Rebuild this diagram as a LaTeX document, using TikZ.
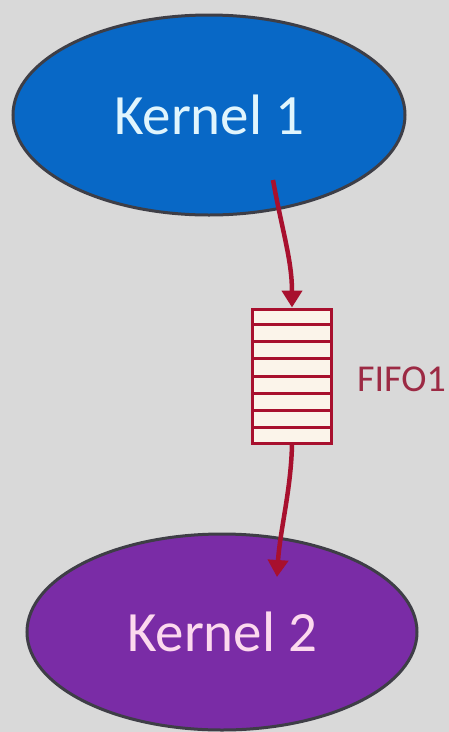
\documentclass[tikz,border=0pt]{standalone}
\usepackage{fontspec}
\setmainfont{Carlito}
\usetikzlibrary{shapes.geometric,arrows.meta,calc}
\definecolor{bgray}{HTML}{D9D9D9}
\definecolor{kblue}{HTML}{0868C6}
\definecolor{kpurple}{HTML}{7A2CA6}
\definecolor{rimgray}{HTML}{3E3E46}
\definecolor{fifored}{HTML}{A8102E}
\definecolor{cellfill}{HTML}{FBF4EA}
\definecolor{labelred}{HTML}{9C2A44}
\tikzset{
  kernel/.style={ellipse, draw=rimgray, line width=3pt, inner sep=0pt,
    font=\fontsize{57}{62}\selectfont},
  conn/.style={draw=fifored, line width=4.5pt,
    -{Triangle[length=17pt,width=20pt]}},
  queue/.style={draw=fifored, fill=cellfill, line width=3pt,
    minimum width=79pt, minimum height=134pt, inner sep=0pt},
}
\begin{document}
\begin{tikzpicture}[x=1pt,y=-1pt]
  \fill[bgray] (0,0) rectangle (449,732);
  \useasboundingbox (0,0) rectangle (449,732);

  \node[kernel, fill=kblue, minimum width=392pt, minimum height=200pt,
        text=white!88!cyan] (k1) at (209,115) {Kernel 1};
  \node[kernel, fill=kpurple, minimum width=390pt, minimum height=196pt,
        text=white!85!magenta] (k2) at (222,632) {Kernel 2};

  % queue with eight slots
  \node[queue] (fifo) at (292,376) {};
  \foreach \i in {1,...,7}
    \draw[fifored, line width=3pt]
      ($(fifo.north west)!\i/8!(fifo.south west)$) --
      ($(fifo.north east)!\i/8!(fifo.south east)$);
  \node[anchor=west, inner sep=0pt, text=labelred,
        font=\fontsize{38}{42}\selectfont]
    (lbl) at (357,379) {FIFO1};

  \draw[conn] ($(k1.center)+(64,65)$) .. controls (282,230) and (292,260) .. (fifo.north);
  \draw[conn] (fifo.south) .. controls (291,490) and (280,530) .. ($(k2.center)+(55,-55)$);
\end{tikzpicture}
\end{document}
